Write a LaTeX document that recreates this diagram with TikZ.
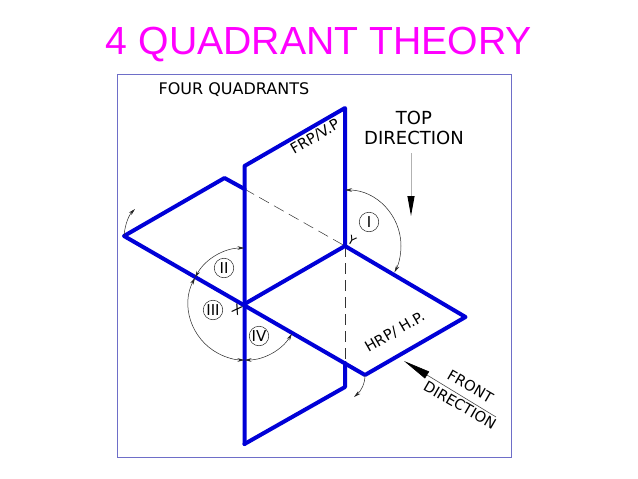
\documentclass[tikz,border=0pt]{standalone}
\usepackage{fontspec}
\setmainfont{DejaVu Sans}
\newfontfamily\titlefont{Liberation Sans}
\usetikzlibrary{arrows.meta}
\definecolor{planeblue}{RGB}{0,0,215}
\definecolor{framecol}{RGB}{110,110,200}
\definecolor{titlecol}{RGB}{255,0,255}
\tikzset{
  plane/.style={draw=planeblue,line width=4pt,line join=round,line cap=round},
  hidden/.style={draw=black!80,line width=0.5pt,dash pattern=on 11pt off 6pt},
  dim/.style={draw=black!85,line width=0.5pt,{Stealth[length=7pt,width=3.5pt]}-{Stealth[length=7pt,width=3.5pt]}},
  rot/.style={draw=black!85,line width=0.5pt,-{Stealth[length=7pt,width=3.5pt]}},
  quad/.style={circle,draw=black!85,line width=0.5pt,minimum size=19.5pt,inner sep=0pt,font=\fontsize{15}{15}\selectfont},
  lab/.style={inner sep=0pt,font=\fontsize{14.6}{16}\selectfont},
}
\begin{document}
\begin{tikzpicture}[x=1pt,y=-1pt]
\useasboundingbox (0,0) rectangle (638,479);
\fill[white] (0,0) rectangle (638,479);
\node[inner sep=0pt,text=titlecol,font=\titlefont\fontsize{39.2}{39.2}\selectfont] (title) at (319,45) {4 QUADRANT THEORY};
\draw[framecol,line width=0.8pt] (117,74) rectangle (511,457);
\node[lab,font=\fontsize{16}{16}\selectfont] (four) at (234,90) {FOUR QUADRANTS};

\coordinate (O1) at (244.5,304);
\coordinate (O2) at (345,246);
\coordinate (VTL) at (244.5,166);
\coordinate (VTR) at (345,108);
\coordinate (VBR) at (345,387);
\coordinate (VBL) at (244.5,444);
\coordinate (VS) at (345,363);
\coordinate (HL) at (124,236);
\coordinate (HT) at (224.5,178);
\coordinate (HC) at (244.5,189);
\coordinate (HR) at (465.5,317);
\coordinate (HB) at (365,375);

\draw[hidden] (HC) -- (O2);
\draw[hidden] (O2) -- (VS);
\draw[plane] (VBL) -- (VTL) -- (VTR) -- (O2);
\draw[plane] (VS) -- (VBR) -- (VBL);
\draw[plane] (HC) -- (HT) -- (HL) -- (HB) -- (HR) -- (O2) -- (O1);

% quadrant arcs
\draw[dim] (O1) ++(208:56) arc[start angle=208,end angle=270,radius=56];
\draw[dim] (O1) ++(208:56) arc[start angle=208,end angle=90,radius=56];
\draw[dim] (O1) ++(90:56) arc[start angle=90,end angle=32,radius=56];
\draw[dim] (O2) ++(270:56) arc[start angle=270,end angle=388,radius=56];

\draw[rot] (HL) .. controls (125,224) and (129,215) .. (135,209);
\draw[rot] (HB) .. controls (365,384) and (361,391) .. (354,397);

\node[quad] (qI) at (369,222) {I};
\node[quad] (qII) at (224,268) {II};
\node[quad] (qIII) at (213,310) {III};
\node[quad] (qIV) at (259,336) {IV};
\node[lab,rotate=-30,font=\fontsize{13}{13}\selectfont] (xl) at (237,310) {X};
\node[lab,rotate=-30,font=\fontsize{12}{12}\selectfont] (yl) at (352,241) {Y};

\node[lab,rotate=30] (frp) at (315,137) {FRP/V.P};
\node[lab,rotate=30] (hrp) at (395,332) {HRP/ H.P.};

\node[lab,align=center,font=\fontsize{18}{19.5}\selectfont] (top) at (414,128) {TOP\\DIRECTION};
\coordinate (TS) at (411,153);
\coordinate (TE) at (411,216);
\draw[draw=black!30,line width=1pt,-{Stealth[length=20pt,width=7pt,inset=0pt,color=black]}] (TS) -- (TE);

\coordinate (FS) at (496,417);
\coordinate (FE) at (404,361);
\draw[draw=black!70,line width=0.6pt,-{Stealth[length=27pt,width=8pt,inset=0pt,color=black]}] (FS) -- (FE);
\node[lab,rotate=-30] (front) at (470.5,386.5) {FRONT};
\node[lab,rotate=-30] (dir) at (460,405) {DIRECTION};
\end{tikzpicture}
\end{document}
